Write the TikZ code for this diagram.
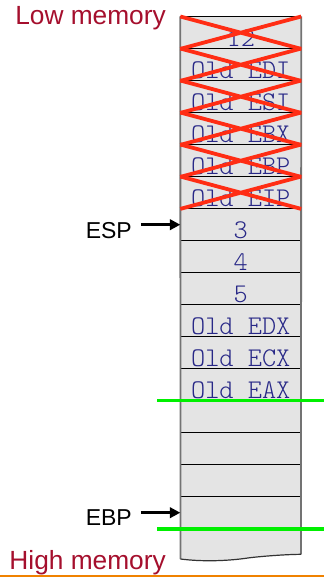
\documentclass[tikz,border=0pt]{standalone}
\usepackage{fontspec}
\setmainfont{Liberation Sans}
\usetikzlibrary{arrows.meta}
\definecolor{memred}{RGB}{165,15,45}
\definecolor{cellfill}{RGB}{228,228,228}
\definecolor{sidegray}{RGB}{115,115,115}
\definecolor{cellink}{RGB}{40,40,135}
\definecolor{crossred}{RGB}{255,45,20}
\definecolor{markgreen}{RGB}{0,240,0}
\definecolor{orangerule}{RGB}{240,130,0}
\begin{document}
\begin{tikzpicture}[x=1pt,y=-1pt,
  cell/.style={minimum width=120.5pt, inner sep=0pt, text height=29.7pt, text depth=2.3pt,
    font={\fontsize{27}{29}\ttfamily\fontseries{l}\selectfont}, text=cellink},
  rowline/.style={draw=black, line width=0.8pt},
  side/.style={draw=sidegray, line width=1.8pt},
  bottomedge/.style={draw=black!80, line width=1.2pt},
  cross/.style={draw=crossred, line width=3.8pt},
  greenmark/.style={draw=markgreen, line width=3.3pt},
  memlabel/.style={inner sep=0pt, font={\fontsize{26.3}{28}\selectfont}, text=memred},
  reglabel/.style={inner sep=0pt, font={\fontsize{23}{25}\selectfont}, text=black},
  ptr/.style={draw=black, line width=3pt, -{Triangle[length=10.5pt,width=10.5pt]}}]
\useasboundingbox (0,0) rectangle (324,577);
% column background
\coordinate (bl) at (180.5,559);
\coordinate (br) at (301,554.3);
\fill[cellfill] (180.5,16.7) -- (301,16.7) -- (br) .. controls (285,554.5) and (265,556) .. (250,557.7)
  .. controls (225,561.5) and (200,561.5) .. (bl) -- cycle;
% cells
\node[cell] (r0)  at (240.75, 32.7) {12};
\node[cell] (r1)  at (240.75, 64.7) {Old EDI};
\node[cell] (r2)  at (240.75, 96.7) {Old ESI};
\node[cell] (r3)  at (240.75,128.7) {Old EBX};
\node[cell] (r4)  at (240.75,160.7) {Old EBP};
\node[cell] (r5)  at (240.75,192.7) {Old EIP};
\node[cell] (r6)  at (240.75,224.7) {3};
\node[cell] (r7)  at (240.75,256.7) {4};
\node[cell] (r8)  at (240.75,288.7) {5};
\node[cell] (r9)  at (240.75,320.7) {Old EDX};
\node[cell] (r10) at (240.75,352.7) {Old ECX};
\node[cell] (r11) at (240.75,384.7) {Old EAX};
\node[cell] (r12) at (240.75,416.7) {};
\node[cell] (r13) at (240.75,448.7) {};
\node[cell] (r14) at (240.75,480.7) {};
\node[cell] (r15) at (240.75,512.7) {};
% row separators
\foreach \i in {0,...,15} \draw[rowline] (r\i.north west) -- (r\i.north east);
\draw[rowline] (r15.south west) -- (r15.south east);
% column sides and torn bottom
\draw[side] (r0.north west) -- (bl);
\draw[side] (r0.north east) -- (br);
\draw[bottomedge] (bl) .. controls (200,561.5) and (225,561.5) .. (250,557.7)
  .. controls (265,556) and (285,554.5) .. (br);
% crossed-out cells
\foreach \i in {0,...,5}
  \draw[cross] (r\i.north west) -- (r\i.south east) (r\i.south west) -- (r\i.north east);
% green marks
\draw[greenmark] ([xshift=-23.2pt]r12.north west) -- ([xshift=23pt]r12.north east);
\draw[greenmark] ([xshift=-23.2pt]r15.south west) -- ([xshift=23pt]r15.south east);
% labels
\node[memlabel, anchor=base east] (low) at (166,25) {Low memory};
\node[memlabel, anchor=base east] (high) at (166,569.3) {High memory};
\node[reglabel, anchor=base east] (esp) at (132,238.3) {ESP};
\node[reglabel, anchor=base east] (ebp) at (132,525.5) {EBP};
\draw[ptr] ([xshift=-39.5pt]r6.west) -- (r6.west);
\draw[ptr] ([xshift=-39.5pt]r15.west) -- (r15.west);
% bottom rule
\coordinate (ruleL) at (0,576);
\coordinate (ruleR) at (324,576);
\draw[draw=orangerule, line width=1.2pt] (ruleL) -- (ruleR);
\end{tikzpicture}
\end{document}
